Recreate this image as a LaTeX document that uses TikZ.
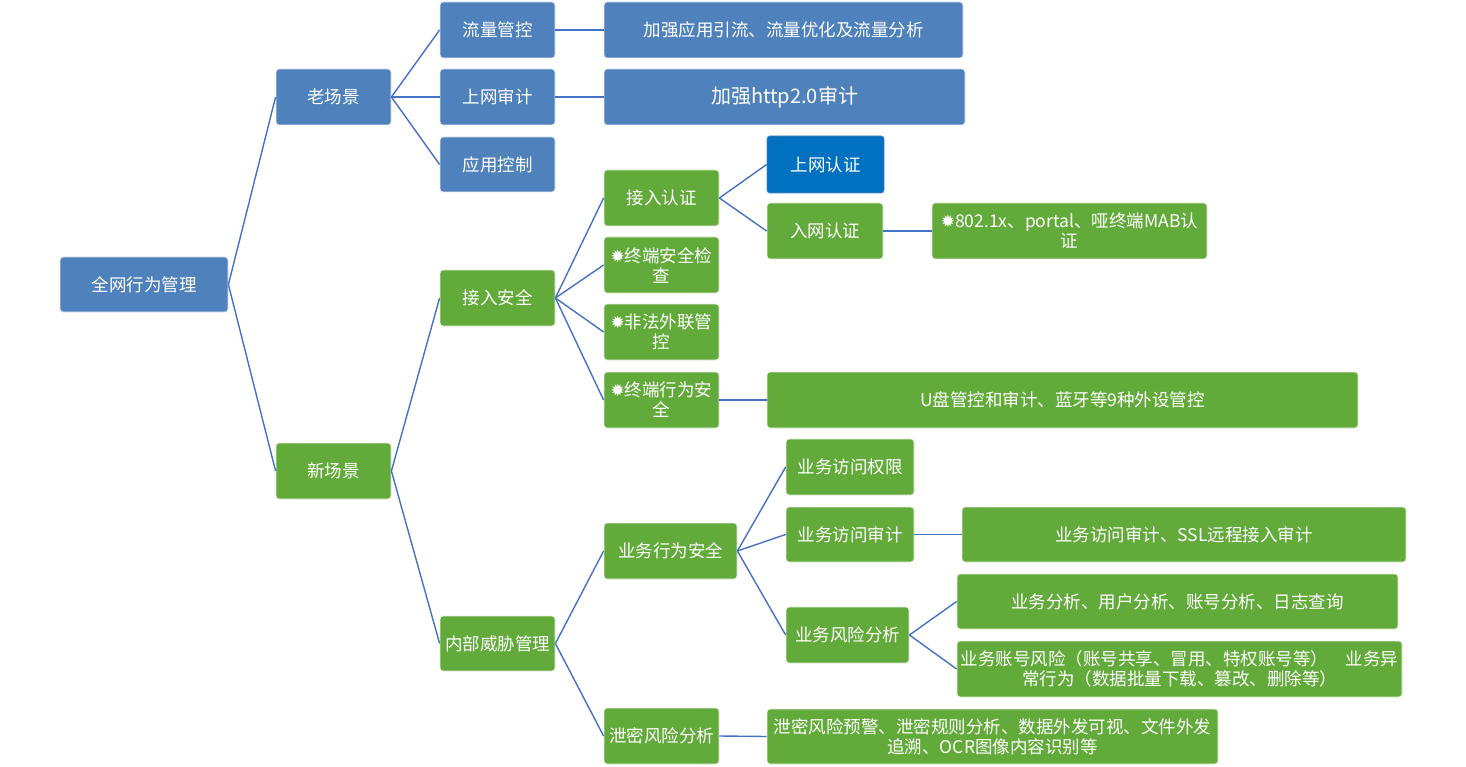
\documentclass[tikz,border=0pt]{standalone}
\usepackage{fontspec}
\setmainfont{Noto Sans CJK SC}
\newfontfamily\symfont{DejaVu Sans}
\newcommand{\burst}{{\symfont\fontsize{17}{17}\selectfont ✹}}
\usepackage{tikz}
\definecolor{boxblue}{HTML}{4F81BD}
\definecolor{boxgreen}{HTML}{62AA3A}
\definecolor{deepblue}{HTML}{0070C0}
\definecolor{linkblue}{HTML}{4472C4}
\tikzset{
	bbox/.style 2 args={rectangle,rounded corners=3pt,fill=boxblue,draw=white!85!boxblue,line width=0.8pt,text=white,align=center,inner sep=1pt,minimum width=#1pt,minimum height=#2pt,font=\fontsize{17.5}{20}\selectfont},
	gbox/.style 2 args={bbox={#1}{#2},fill=boxgreen,draw=white!85!boxgreen},
	dbox/.style 2 args={bbox={#1}{#2},fill=deepblue,draw=boxblue},
	link/.style={draw=linkblue,line width=1.4pt}
}
\begin{document}
\begin{tikzpicture}[x=1pt,y=-1pt]
	\useasboundingbox (0,0) rectangle (1466,767);
	% root and first level
	\node [bbox={168}{55}] (root) at (144, 284.5) {全网行为管理};
	\node [bbox={115}{56}] (old) at (333.5, 97) {老场景};
	\node [gbox={115}{56}] (new) at (333.5, 471) {新场景};

	% old scene
	\node [bbox={115}{56}] (flow) at (497.5, 30) {流量管控};
	\node [bbox={115}{56}] (audit) at (497.5, 97) {上网审计};
	\node [bbox={115}{55}] (appctl) at (497.5, 164.5) {应用控制};
	\node [bbox={359}{56}] (flowtxt) at (783.5, 30) {加强应用引流、流量优化及流量分析};
	\node [bbox={361}{56}, font=\fontsize{20}{22}\selectfont] (audittxt) at (784.5, 97) {加强http2.0审计};

	% new scene
	\node [gbox={115}{56}] (access) at (497.5, 298) {接入安全};
	\node [gbox={115}{55}] (inner) at (497.5, 643.5) {内部威胁管理};

	\node [gbox={115}{56}] (auth) at (661.5, 198) {接入认证};
	\node [gbox={115}{56}] (check) at (661.5, 265) {\burst 终端安全检\\查};
	\node [gbox={115}{56}] (outlink) at (661.5, 332) {\burst 非法外联管\\控};
	\node [gbox={115}{56}] (behav) at (661.5, 400) {\burst 终端行为安\\全};

	\node [dbox={117}{57}] (webauth) at (825.5, 164.5) {上网认证};
	\node [gbox={116}{56}] (netauth) at (825, 231) {入网认证};
	\node [gbox={275}{56}] (dot1x) at (1069.5, 231) {\burst 802.1x、portal、哑终端MAB认\\证};
	\node [gbox={591}{56}] (usb) at (1062.5, 400) {U盘管控和审计、蓝牙等9种外设管控};

	% inner threat
	\node [gbox={133}{56}] (biz) at (670.5, 551) {业务行为安全};
	\node [gbox={115}{56}] (leak) at (661.5, 736) {泄密风险分析};
	\node [gbox={128}{56}] (bizperm) at (850, 467) {业务访问权限};
	\node [gbox={128}{55}] (bizaudit) at (850, 534.5) {业务访问审计};
	\node [gbox={123}{56}] (bizrisk) at (847.5, 635) {业务风险分析};
	\node [gbox={444}{55}] (bizaudittxt) at (1184, 534.5) {业务访问审计、SSL远程接入审计};
	\node [gbox={441}{55}] (bizana) at (1177.5, 601.5) {业务分析、用户分析、账号分析、日志查询};
	\node [gbox={445}{56}] (bizacct) at (1179.5, 669) {业务账号风险（账号共享、冒用、特权账号等）\quad 业务异\\常行为（数据批量下载、篡改、删除等）};
	\node [gbox={451}{55}] (leaktxt) at (992.5, 736.5) {泄密风险预警、泄密规则分析、数据外发可视、文件外发\\追溯、OCR图像内容识别等};

	\draw [link] (root.east) -- (old.west);
	\draw [link] (root.east) -- (new.west);
	\foreach \c in {flow, audit, appctl}
		\draw [link] (old.east) -- (\c.west);
	\draw [link] (flow.east) -- (flowtxt.west);
	\draw [link] (audit.east) -- (audittxt.west);
	\draw [link] (new.east) -- (access.west);
	\draw [link] (new.east) -- (inner.west);
	\foreach \c in {auth, check, outlink, behav}
		\draw [link] (access.east) -- (\c.west);
	\draw [link] (auth.east) -- (webauth.west);
	\draw [link] (auth.east) -- (netauth.west);
	\draw [link] (netauth.east) -- (dot1x.west);
	\draw [link] (behav.east) -- (usb.west);
	\draw [link] (inner.east) -- (biz.west);
	\draw [link] (inner.east) -- (leak.west);
	\foreach \c in {bizperm, bizaudit, bizrisk}
		\draw [link] (biz.east) -- (\c.west);
	\draw [link] (bizaudit.east) -- (bizaudittxt.west);
	\draw [link] (bizrisk.east) -- (bizana.west);
	\draw [link] (bizrisk.east) -- (bizacct.west);
	\draw [link] (leak.east) -- (leaktxt.west);
\end{tikzpicture}
\end{document}
